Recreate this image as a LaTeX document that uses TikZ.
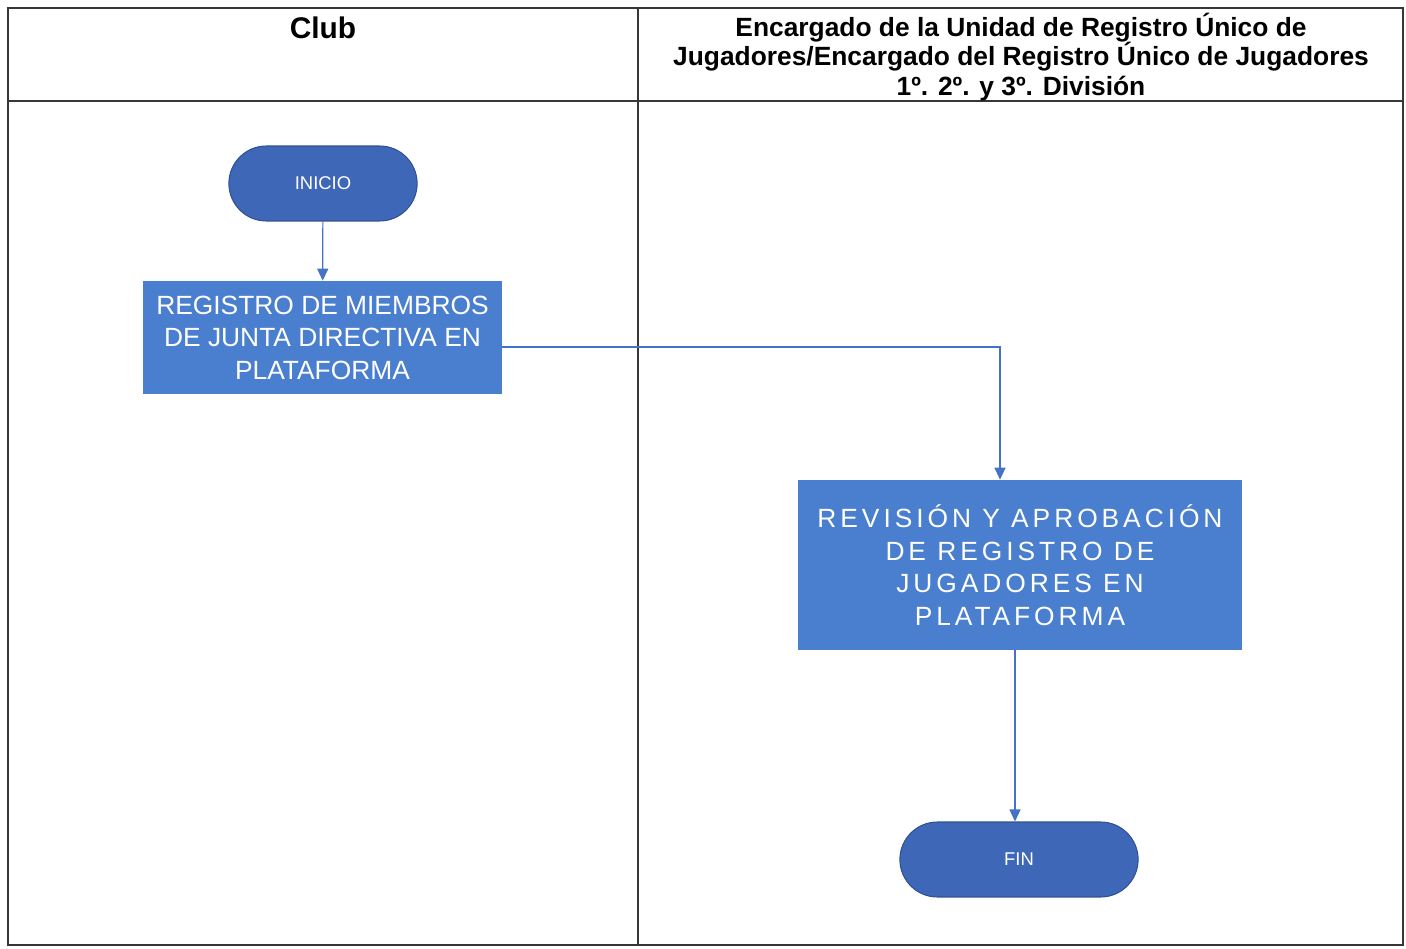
\documentclass[tikz,border=0pt]{standalone}
\usepackage{fontspec}
\setmainfont{Liberation Sans}
\newfontfamily\boxfont{Liberation Sans}
\newfontfamily\wideboxfont[LetterSpace=15]{Liberation Sans}
\usetikzlibrary{shapes.misc,arrows.meta}
\definecolor{boxblue}{RGB}{74,126,206}
\definecolor{endblue}{RGB}{62,103,184}
\definecolor{endline}{RGB}{47,82,143}
\definecolor{flowline}{RGB}{68,114,196}
\definecolor{gridline}{RGB}{55,55,55}
\begin{document}
\begin{tikzpicture}[x=0.02cm,y=-0.02cm,
  lane/.style={draw=gridline,line width=0.9pt},
  head/.style={font=\bfseries\fontsize{15}{17}\selectfont,align=center},
  endnode/.style={rounded rectangle,fill=endblue,draw=endline,line width=0.6pt,
    minimum height=1.5cm,text=white,font=\fontsize{10.5}{12}\selectfont},
  taskbox/.style={rectangle,fill=boxblue,inner sep=0pt,text=white,align=center},
  flow/.style={draw=flowline,line width=0.7pt,-{Triangle[length=0.24cm,width=0.22cm]}}]
\useasboundingbox (0,0) rectangle (1406,949);
% swimlanes
\draw [lane] (8,8) rectangle (1403,945);
\draw [lane] (8,101) -- (1403,101);
\draw [lane] (638,8) -- (638,945);
\node [head,font=\bfseries\fontsize{17}{19}\selectfont] (club) at (323,28) {Club};
\node [head] (encargado) at (1021,57) {Encargado de la Unidad de Registro Único de\\
  Jugadores/Encargado del Registro Único de Jugadores\\
  1º. 2º. y 3º. División};
% nodes
\node [endnode,minimum width=4cm] (inicio) at (323,183.5) {INICIO};
\node [taskbox,minimum width=7.18cm,minimum height=2.26cm,
  font=\boxfont\fontsize{15}{18.5}\selectfont] (registro) at (322.5,337.5)
  {REGISTRO DE MIEMBROS\\DE JUNTA DIRECTIVA EN\\PLATAFORMA};
\node [taskbox,minimum width=8.88cm,minimum height=3.4cm,
  font=\wideboxfont\fontsize{15}{18.5}\selectfont] (revision) at (1020,565)
  {REVISIÓN Y APROBACIÓN\\DE REGISTRO DE\\JUGADORES EN\\PLATAFORMA};
\node [endnode,minimum width=5cm] (fin) at (1019,859.5) {FIN};
% connectors
\coordinate (turn) at (1000,347);
\draw [flow] (inicio) -- (registro);
\draw [flow] (registro.east |- turn) -- (turn) -- (revision.north -| turn);
\draw [flow] (revision.south -| 1015,0) -- (fin.north -| 1015,0);
\end{tikzpicture}
\end{document}
